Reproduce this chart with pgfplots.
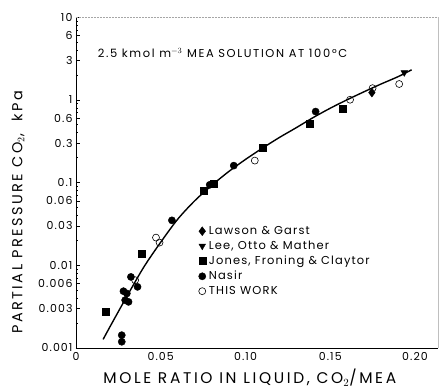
\documentclass[border=0pt]{standalone}
\usepackage{fontspec}
\setmainfont{Poppins}
\newfontfamily\lsA{Poppins}[LetterSpace=17]
\newfontfamily\lsB{Poppins}[LetterSpace=10]
\newfontfamily\lsC{Poppins}[LetterSpace=14]
\usepackage{pgfplots}
\pgfplotsset{compat=1.18}
\begin{document}
\begin{tikzpicture}
\begin{axis}[
  name=ax,
  scale only axis, width=362bp, height=331bp,
  ymode=log, xmin=0, xmax=0.2136, ymin=0.001, ymax=10,
  axis x line*=bottom, axis y line*=left,
  axis line style={-, line width=0.9pt},
  clip=false,
  /pgf/number format/assume math mode=true,
  xtick={0,0.05,0.10,0.15,0.20},
  xticklabels={0,0.05,0.10,0.15,0.20},
  ytick={0.001,0.003,0.006,0.01,0.03,0.06,0.1,0.3,0.6,1,3,6,10},
  yticklabels={0.001,0.003,0.006,0.01,0.03,0.06,0.1,0.3,0.6,1,3,6,10},
  minor ytick={0.002,0.004,0.005,0.007,0.008,0.009,0.02,0.04,0.05,0.07,0.08,0.09,0.2,0.4,0.5,0.7,0.8,0.9,2,4,5,7,8,9},
  tick align=inside,
  major tick length=4bp, minor tick length=2.5bp,
  tick style={black, line width=0.5pt},
  xtick style={draw=none},
  ticklabel style={font=\lsB\fontsize{11}{13}\selectfont},
  xticklabel style={yshift=-1bp},
  xlabel={MOLE RATIO IN LIQUID, CO$_2$/MEA},
  ylabel={PARTIAL PRESSURE CO$_2$,\ \ kPa},
  every axis x label/.style={at={([yshift=-30bp]rel axis cs:0.48,0)}, anchor=center, font=\lsA\fontsize{15.5}{17}\selectfont},
  every axis y label/.style={at={([xshift=-58bp]rel axis cs:0,0.41)}, anchor=center, rotate=90, font=\lsA\fontsize{14.5}{16}\selectfont},
  legend style={at={(rel axis cs:0.33,0.38)}, anchor=north west, draw=none, fill=none,
    font=\lsB\fontsize{11.5}{13}\selectfont, row sep=1bp, nodes={inner xsep=3bp}},
  legend cell align=left,
]
\addplot[only marks, mark=diamond*, mark size=4.4bp, black] coordinates {(0.1746,1.22)};
\addlegendentry{Lawson \& Garst}
\addplot[only marks, mark=triangle*, mark size=3.8bp, mark options={rotate=180}, black] coordinates {(0.1937,2.13)};
\addlegendentry{Lee, Otto \& Mather}
\addplot[only marks, mark=square*, mark size=3.5bp, black] coordinates {
(0.0176,0.00274) (0.0385,0.0138) (0.0753,0.0786) (0.0812,0.0965) (0.1099,0.262) (0.138,0.51) (0.1572,0.773)};
\addlegendentry{Jones, Froning \& Claytor}
\addplot[only marks, mark=*, mark size=3.6bp, black] coordinates {
(0.027,0.00143) (0.027,0.00119) (0.028,0.00486) (0.030,0.00456) (0.029,0.00379) (0.031,0.00361)
(0.0324,0.00723) (0.0363,0.00548) (0.0566,0.0349) (0.0789,0.0938) (0.0931,0.160) (0.1414,0.72)};
\addlegendentry{Nasir}
\addplot[only marks, mark=o, mark size=3.5bp, black, line width=0.6pt] coordinates {
(0.0349,0.0066) (0.0472,0.0216) (0.0493,0.0188) (0.1055,0.184) (0.1617,1.0) (0.175,1.38) (0.1907,1.55)};
\addlegendentry{THIS WORK}
\addplot[smooth, no marks, black, line width=1.4pt, forget plot] coordinates {
(0.016,0.00127) (0.02,0.0018) (0.03,0.0042) (0.04,0.0095) (0.05,0.019) (0.06,0.036) (0.07,0.060)
(0.08,0.092) (0.09,0.135) (0.10,0.19) (0.11,0.26) (0.12,0.35) (0.13,0.46) (0.14,0.61) (0.15,0.79)
(0.16,1.0) (0.17,1.25) (0.18,1.55) (0.19,1.9) (0.198,2.3)};
\draw[gray!70, densely dotted, line width=0.5pt] (rel axis cs:0,1) -- (rel axis cs:1,1);
\draw[gray!50, line width=0.3pt] (rel axis cs:1,0) -- (rel axis cs:1,1);
\node[anchor=center, font=\lsC\fontsize{11.5}{13}\selectfont] at (rel axis cs:0.405,0.891) {2.5 kmol m$^{-3}$ MEA SOLUTION AT 100\,°C};
\end{axis}
\path ([xshift=-76bp,yshift=-41bp]ax.south west) rectangle ([xshift=5bp,yshift=17bp]ax.north east);
\end{tikzpicture}
\end{document}
